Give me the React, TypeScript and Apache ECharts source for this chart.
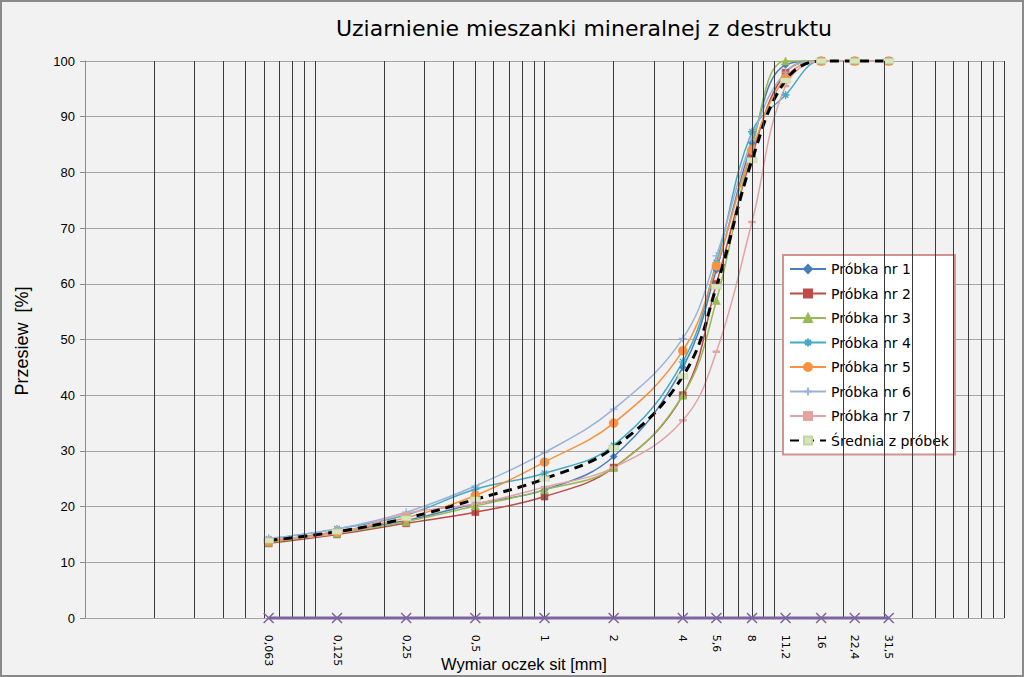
import React, { useEffect, useRef } from 'react';
import * as echarts from 'echarts';

const sieves = [0.063, 0.125, 0.25, 0.5, 1, 2, 4, 5.6, 8, 11.2, 16, 22.4, 31.5];
const sieveLabels = ['0,063', '0,125', '0,25', '0,5', '1', '2', '4', '5,6', '8', '11,2', '16', '22,4', '31,5'];

const p1 = [13.8, 15.5, 17.5, 20.5, 23.0, 29.0, 45.0, 62.5, 85.3, 99.3, 100, 100, 100];
const p2 = [13.4, 15.0, 17.0, 19.0, 21.8, 27.0, 40.0, 60.0, 83.0, 97.9, 100, 100, 100];
const p3 = [13.6, 15.2, 17.3, 20.1, 23.0, 27.0, 40.0, 57.0, 84.4, 100, 100, 100, 100];
const p4 = [14.2, 16.0, 18.5, 23.1, 26.0, 31.0, 46.0, 63.8, 87.3, 93.9, 100, 100, 100];
const p5 = [13.8, 15.5, 18.0, 22.0, 28.0, 35.0, 48.0, 63.2, 84.0, 97.0, 100, 100, 100];
const p6 = [14.3, 16.0, 19.0, 23.7, 29.7, 37.5, 50.2, 65.0, 86.0, 98.0, 100, 100, 100];
const p7 = [14.2, 15.2, 18.8, 20.5, 23.5, 27.0, 35.5, 47.8, 71.1, 95.5, 100, 100, 100];
const mean = [13.9, 15.5, 17.9, 21.3, 25.0, 30.6, 43.4, 59.5, 82.2, 96.5, 100, 100, 100];
const zeros = [0, 0, 0, 0, 0, 0, 0, 0, 0, 0, 0, 0, 0];

const gridXs = [
  0.02, 0.03, 0.04, 0.05, 0.06, 0.07, 0.08, 0.09, 0.1,
  0.2, 0.3, 0.4, 0.5, 0.6, 0.7, 0.8, 0.9, 1,
  2, 3, 4, 5, 6, 7, 8, 9, 10,
  20, 30, 40, 50, 60, 70, 80, 90, 100,
];

const ASTER = 'path://M5,0L5,10M0,5L10,5M1.5,1.5L8.5,8.5M1.5,8.5L8.5,1.5';
const PLUS = 'path://M5,0L5,10M0,5L10,5';
const XMARK = 'path://M0,0L10,10M0,10L10,0';

export default function App() {
  const ref = useRef<HTMLDivElement>(null);
  useEffect(() => {
    document.body.style.margin = '0';
    const chart = echarts.init(ref.current!, null, { renderer: 'svg' });
    const pts = (arr: number[]) => sieves.map((s, i) => [s, arr[i]]);
    const mk = (name: string, arr: number[], color: string, symbol: any, size: any, opts: any = {}) => ({
      name,
      type: 'line',
      data: pts(arr),
      smooth: 0.4,
      symbol,
      symbolSize: size,
      clip: false,
      lineStyle: { color, width: 1.5 },
      itemStyle: { color: opts.fill || color, borderColor: color, borderWidth: opts.bw ?? 0.5 },
      z: 3,
    });
    const font = 'DejaVu Sans';
    const option: any = {
      animation: false,
      backgroundColor: '#f2f2f2',
      grid: { left: 85, right: 20, top: 61, bottom: 59 },
      xAxis: {
        type: 'log',
        logBase: 10,
        min: 0.01,
        max: 100,
        axisLabel: { show: false },
        axisTick: { show: false },
        splitLine: { show: false },
        axisLine: { show: true, lineStyle: { color: '#a6a6a6', width: 1 } },
      },
      yAxis: {
        type: 'value',
        min: 0,
        max: 100,
        interval: 10,
        axisLabel: { color: '#000', fontSize: 13, fontFamily: 'Liberation Sans', margin: 10 },
        axisTick: { show: true, length: 5, lineStyle: { color: '#8c8c8c' } },
        axisLine: { show: true, lineStyle: { color: '#8c8c8c' } },
        splitLine: { show: true, lineStyle: { color: '#a6a6a6', width: 1 } },
      },
      legend: {
        orient: 'vertical',
        left: 783,
        top: 255,
        data: ['Próbka nr 1', 'Próbka nr 2', 'Próbka nr 3', 'Próbka nr 4', 'Próbka nr 5', 'Próbka nr 6', 'Próbka nr 7', 'Średnia z próbek'],
        backgroundColor: '#ffffff',
        borderColor: '#d09392',
        borderWidth: 2,
        padding: [5, 6, 5, 6],
        itemGap: 6.5,
        itemWidth: 36,
        itemHeight: 10,
        textStyle: { fontFamily: font, fontSize: 14, color: '#000', lineHeight: 18 },
      },
      graphic: [
        { type: 'rect', shape: { x: 1, y: 1, width: 1022, height: 675 }, style: { fill: 'none', stroke: '#8a8a8a', lineWidth: 2 }, z: 100, silent: true },
        { type: 'text', x: 584, y: 28, style: { text: 'Uziarnienie mieszanki mineralnej z destruktu', fontSize: 22, fontFamily: font, fill: '#000', align: 'center', verticalAlign: 'middle' } },
        { type: 'text', x: 22, y: 341, rotation: Math.PI / 2, style: { text: 'Przesiew  [%]', fontSize: 18, fontFamily: 'Liberation Sans', fill: '#000', align: 'center', verticalAlign: 'middle' } },
        { type: 'text', x: 524, y: 664, style: { text: 'Wymiar oczek sit [mm]', fontSize: 16.5, fontFamily: 'Liberation Sans', fill: '#000', align: 'center', verticalAlign: 'middle' } },
      ],
      series: [
        {
          name: 'grid',
          type: 'line',
          data: [],
          silent: true,
          markLine: {
            silent: true,
            symbol: 'none',
            label: { show: false },
            lineStyle: { color: '#3a3a3a', width: 1, type: 'solid' },
            data: gridXs.map((x) => ({ xAxis: x })),
          },
          z: 1,
        },
        mk('Próbka nr 1', p1, '#4a7ebb', 'diamond', 7),
        mk('Próbka nr 2', p2, '#be4b48', 'rect', 7),
        mk('Próbka nr 3', p3, '#98b954', 'triangle', 8),
        mk('Próbka nr 4', p4, '#46aac5', ASTER, 8, { fill: 'transparent', bw: 1.3 }),
        mk('Próbka nr 5', p5, '#f69240', 'circle', 9),
        mk('Próbka nr 6', p6, '#99b3da', PLUS, 8, { fill: 'transparent', bw: 1.3 }),
        mk('Próbka nr 7', p7, '#e2a3a2', 'rect', [6, 2]),
        {
          name: 'Średnia z próbek',
          type: 'line',
          data: pts(mean),
          smooth: 0.4,
          symbol: 'rect',
          symbolSize: [10, 5],
          clip: false,
          lineStyle: { color: '#000', width: 3, type: [9, 6] },
          itemStyle: { color: '#d7e4bd', borderColor: '#c3d69b', borderWidth: 0.5 },
          z: 4,
        },
        {
          name: 'sita',
          type: 'line',
          data: pts(zeros),
          symbol: XMARK,
          symbolSize: 10,
          clip: false,
          lineStyle: { color: '#7e659f', width: 3 },
          itemStyle: { color: 'transparent', borderColor: '#7e659f', borderWidth: 1.5 },
          label: {
            show: true,
            position: 'bottom',
            distance: 11,
            rotate: -90,
            align: 'left',
            verticalAlign: 'middle',
            fontFamily: font,
            fontSize: 11,
            color: '#000',
            formatter: (p: any) => sieveLabels[p.dataIndex],
          },
          z: 5,
        },
      ],
    };
    chart.setOption(option);
    return () => chart.dispose();
  }, []);
  return <div ref={ref} style={{ width: 1024, height: 677 }} />;
}
